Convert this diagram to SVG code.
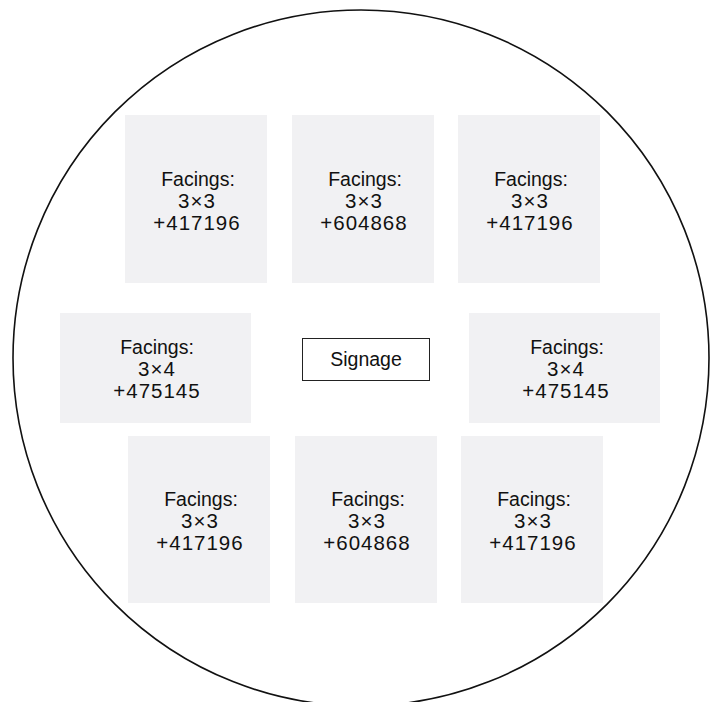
<svg xmlns="http://www.w3.org/2000/svg" width="713" height="702" viewBox="0 0 713 702">
<style>
.bay{fill:#f1f1f3;stroke:none}
.t{font-family:"Liberation Sans",Arial,sans-serif;font-size:19.5px;fill:#111;text-anchor:middle}
.n{font-size:20.5px;letter-spacing:1px}
.sign{fill:#fff;stroke:#222;stroke-width:1}
</style>
<rect width="713" height="702" fill="#fff"/>
<g id="floor">
<circle cx="361" cy="358" r="348" fill="none" stroke="#111" stroke-width="1.6"/>
</g>
<g id="connectors"></g>
<g id="bay-top-left"><rect class="bay" x="125" y="115" width="142" height="168"/>
<text class="t" x="198" y="186">Facings:</text><text class="t n" x="197" y="208">3×3</text><text class="t n" x="197" y="230">+417196</text></g>
<g id="bay-top-center"><rect class="bay" x="292" y="115" width="142" height="168"/>
<text class="t" x="365" y="186">Facings:</text><text class="t n" x="364" y="208">3×3</text><text class="t n" x="364" y="230">+604868</text></g>
<g id="bay-top-right"><rect class="bay" x="458" y="115" width="142" height="168"/>
<text class="t" x="531" y="186">Facings:</text><text class="t n" x="530" y="208">3×3</text><text class="t n" x="530" y="230">+417196</text></g>
<g id="bay-mid-left"><rect class="bay" x="60" y="313" width="191" height="110"/>
<text class="t" x="157" y="354">Facings:</text><text class="t n" x="157" y="376">3×4</text><text class="t n" x="157" y="398">+475145</text></g>
<g id="signage"><rect class="sign" x="302.5" y="338.5" width="127" height="42"/>
<text class="t" x="366" y="366">Signage</text></g>
<g id="bay-mid-right"><rect class="bay" x="469" y="313" width="191" height="110"/>
<text class="t" x="567" y="354">Facings:</text><text class="t n" x="566" y="376">3×4</text><text class="t n" x="566" y="398">+475145</text></g>
<g id="bay-bot-left"><rect class="bay" x="128" y="436" width="142" height="167"/>
<text class="t" x="201" y="506">Facings:</text><text class="t n" x="200" y="528">3×3</text><text class="t n" x="200" y="550">+417196</text></g>
<g id="bay-bot-center"><rect class="bay" x="295" y="436" width="142" height="167"/>
<text class="t" x="368" y="506">Facings:</text><text class="t n" x="367" y="528">3×3</text><text class="t n" x="367" y="550">+604868</text></g>
<g id="bay-bot-right"><rect class="bay" x="461" y="436" width="142" height="167"/>
<text class="t" x="534" y="506">Facings:</text><text class="t n" x="533" y="528">3×3</text><text class="t n" x="533" y="550">+417196</text></g>
</svg>
